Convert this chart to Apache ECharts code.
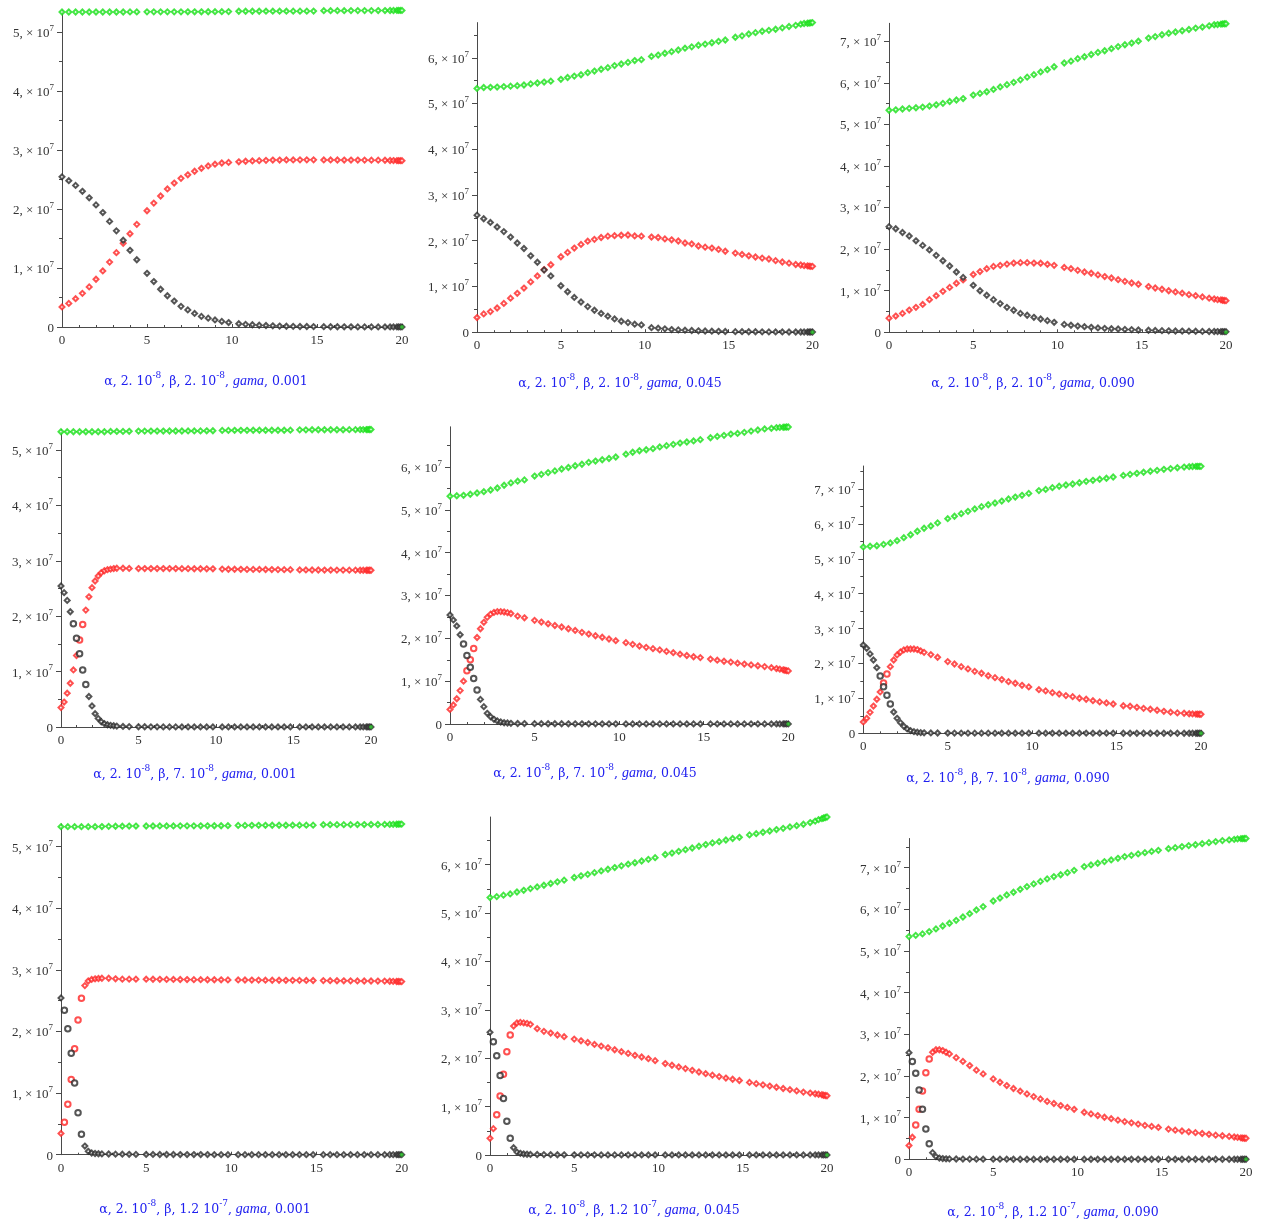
<!DOCTYPE html>
<html>
<head>
<meta charset="utf-8">
<script src="https://cdn.jsdelivr.net/npm/echarts@6/dist/echarts.min.js"></script>
<style>
html, body { margin: 0; padding: 0; background: #fff; }
#chart { width: 1264px; height: 1222px; }
</style>
</head>
<body>
<div id="chart"></div>
<script>
// Output times of the numeric solution (days 0..20)
const tSparse = [0,0.4,0.8,1.2,1.6,2,2.4,2.8,3.2,3.6,4,4.4,
  5,5.4,5.8,6.2,6.6,7,7.4,7.8,8.2,8.6,9,9.4,9.8,
  10.4,10.8,11.2,11.6,12,12.4,12.8,13.2,13.6,14,14.4,14.8,
  15.4,15.8,16.2,16.6,17,17.4,17.8,18.2,18.6,19,
  19.3,19.5,19.7,19.8,19.9,20];
const tDense2 = [0,0.2,0.4,0.6,0.8,1,1.2,1.4,1.6,1.8,2,2.2,2.4,2.6,2.8,3,3.2,3.4,3.6,
  4,4.4,
  5,5.4,5.8,6.2,6.6,7,7.4,7.8,8.2,8.6,9,9.4,9.8,
  10.4,10.8,11.2,11.6,12,12.4,12.8,13.2,13.6,14,14.4,14.8,
  15.4,15.8,16.2,16.6,17,17.4,17.8,18.2,18.6,19,
  19.3,19.5,19.7,19.8,19.9,20];
const tDense3 = [0,0.2,0.4,0.6,0.8,1,1.2,1.4,1.6,1.8,2,2.2,2.4,
  2.8,3.2,3.6,4,4.4,
  5,5.4,5.8,6.2,6.6,7,7.4,7.8,8.2,8.6,9,9.4,9.8,
  10.4,10.8,11.2,11.6,12,12.4,12.8,13.2,13.6,14,14.4,14.8,
  15.4,15.8,16.2,16.6,17,17.4,17.8,18.2,18.6,19,
  19.3,19.5,19.7,19.8,19.9,20];

// Population values, in units of 10^7
// beta = 2e-8, gama = 0.001
const p1Green = [5.340,5.340,5.340,5.340,5.340,5.340,5.340,5.340,5.340,5.340,5.341,5.341,
  5.342,5.342,5.342,5.342,5.342,5.342,5.343,5.343,5.343,5.344,5.345,5.345,5.346,
  5.352,5.352,5.352,5.352,5.353,5.353,5.353,5.353,5.354,5.354,5.354,5.355,
  5.362,5.362,5.362,5.362,5.363,5.363,5.363,5.363,5.364,5.364,
  5.365,5.365,5.366,5.366,5.367,5.367];
const p1Red = [0.34,0.40,0.48,0.57,0.68,0.81,0.95,1.10,1.26,1.42,1.58,1.74,
  1.97,2.10,2.22,2.34,2.44,2.52,2.58,2.64,2.69,2.73,2.76,2.78,2.79,
  2.80,2.81,2.815,2.82,2.825,2.83,2.83,2.832,2.832,2.833,2.833,2.833,
  2.832,2.832,2.831,2.83,2.83,2.83,2.829,2.828,2.828,2.827,
  2.822,2.821,2.82,2.82,2.82,2.82];
const p1Black = [2.545,2.48,2.40,2.30,2.19,2.07,1.94,1.79,1.63,1.47,1.30,1.14,
  0.91,0.77,0.64,0.53,0.44,0.35,0.29,0.23,0.18,0.15,0.12,0.095,0.075,
  0.055,0.045,0.038,0.03,0.025,0.02,0.016,0.013,0.011,0.009,0.008,0.007,
  0.005,0.004,0.004,0.003,0.003,0.002,0.002,0.002,0.001,0.001,
  0.001,0.001,0.001,0.001,0.001,0.001];

// beta = 2e-8, gama = 0.045
const p2Green = [5.33,5.35,5.355,5.36,5.37,5.38,5.39,5.405,5.43,5.45,5.47,5.49,
  5.53,5.57,5.60,5.63,5.675,5.71,5.75,5.785,5.83,5.865,5.90,5.94,5.96,
  6.03,6.06,6.10,6.135,6.17,6.21,6.24,6.275,6.30,6.33,6.36,6.39,
  6.45,6.48,6.52,6.55,6.58,6.60,6.625,6.655,6.685,6.71,
  6.735,6.75,6.755,6.76,6.765,6.77];
const p2Red = [0.32,0.40,0.45,0.53,0.63,0.745,0.85,0.965,1.10,1.23,1.37,1.475,
  1.65,1.745,1.84,1.92,1.99,2.03,2.07,2.10,2.11,2.12,2.125,2.105,2.10,
  2.08,2.07,2.04,2.02,1.995,1.95,1.93,1.885,1.86,1.84,1.81,1.77,
  1.73,1.70,1.67,1.645,1.62,1.60,1.565,1.535,1.51,1.48,
  1.47,1.455,1.45,1.445,1.44,1.44];
const p2Black = [2.56,2.48,2.40,2.30,2.20,2.08,1.95,1.83,1.67,1.53,1.36,1.23,
  1.015,0.885,0.76,0.66,0.56,0.48,0.41,0.35,0.29,0.24,0.21,0.175,0.16,
  0.10,0.088,0.073,0.058,0.05,0.044,0.037,0.03,0.026,0.022,0.019,0.016,
  0.012,0.011,0.01,0.009,0.008,0.007,0.006,0.006,0.005,0.005,
  0.005,0.004,0.004,0.004,0.004,0.004];

// beta = 2e-8, gama = 0.090
const p3Green = [5.34,5.35,5.37,5.385,5.40,5.415,5.44,5.47,5.505,5.55,5.585,5.62,
  5.705,5.745,5.785,5.84,5.90,5.955,6.01,6.07,6.135,6.195,6.26,6.315,6.385,
  6.475,6.52,6.58,6.625,6.68,6.73,6.77,6.82,6.87,6.915,6.955,7.00,
  7.075,7.11,7.155,7.19,7.22,7.25,7.28,7.315,7.34,7.37,
  7.395,7.40,7.41,7.415,7.42,7.42];
const p3Red = [0.34,0.39,0.455,0.535,0.60,0.67,0.785,0.88,0.985,1.08,1.18,1.26,
  1.39,1.46,1.53,1.585,1.61,1.64,1.665,1.675,1.675,1.665,1.66,1.635,1.61,
  1.56,1.53,1.49,1.45,1.42,1.38,1.34,1.305,1.265,1.225,1.185,1.155,
  1.10,1.065,1.035,1.00,0.97,0.94,0.905,0.88,0.85,0.82,
  0.80,0.785,0.78,0.77,0.765,0.76];
const p3Black = [2.54,2.49,2.40,2.315,2.20,2.09,1.98,1.85,1.72,1.595,1.45,1.32,
  1.13,1.00,0.89,0.785,0.69,0.60,0.53,0.455,0.41,0.36,0.32,0.28,0.24,
  0.19,0.17,0.15,0.135,0.12,0.105,0.095,0.085,0.08,0.07,0.065,0.055,
  0.05,0.045,0.04,0.036,0.032,0.03,0.027,0.025,0.022,0.02,
  0.019,0.018,0.017,0.017,0.016,0.016];

// beta = 7e-8, gama = 0.001
const p4Green = [5.33,5.33,5.33,5.33,5.33,5.33,5.33,5.33,5.335,5.335,5.336,5.337,
  5.341,5.341,5.342,5.342,5.342,5.343,5.343,5.343,5.344,5.344,5.345,5.346,5.347,
  5.354,5.354,5.355,5.355,5.355,5.356,5.356,5.356,5.357,5.357,5.357,5.358,
  5.364,5.364,5.365,5.365,5.365,5.366,5.366,5.366,5.367,5.367,
  5.368,5.368,5.369,5.369,5.37,5.37];
const p4Red = [0.35,0.45,0.61,0.79,1.03,1.29,1.57,1.85,2.11,2.35,2.515,2.635,2.725,2.785,2.82,2.84,2.85,2.86,2.865,
  2.865,2.862,
  2.86,2.86,2.86,2.86,2.86,2.86,2.86,2.858,2.858,2.857,2.856,2.855,2.855,
  2.85,2.848,2.847,2.846,2.845,2.845,2.844,2.843,2.842,2.841,2.84,2.84,
  2.835,2.835,2.834,2.834,2.833,2.833,2.832,2.832,2.831,2.831,
  2.83,2.83,2.83,2.83,2.83,2.83];
const p4Black = [2.545,2.425,2.285,2.08,1.865,1.60,1.32,1.03,0.765,0.55,0.38,0.24,0.155,0.095,0.06,0.04,0.03,0.022,0.016,
  0.01,0.007,
  0.005,0.004,0.003,0.003,0.002,0.002,0.002,0.001,0.001,0.001,0.001,0.001,0.001,
  0.001,0.001,0.001,0.001,0.001,0.001,0.001,0.001,0.001,0.001,0.001,0.001,
  0.001,0.001,0.001,0.001,0.001,0.001,0.001,0.001,0.001,0.001,
  0.001,0.001,0.001,0.001,0.001,0.001];

// beta = 7e-8, gama = 0.045
const p5Green = [5.32,5.33,5.34,5.365,5.395,5.425,5.465,5.51,5.575,5.63,5.67,5.70,
  5.79,5.83,5.87,5.91,5.955,5.99,6.03,6.065,6.11,6.14,6.17,6.20,6.235,
  6.30,6.345,6.38,6.405,6.43,6.47,6.50,6.53,6.56,6.585,6.61,6.64,
  6.685,6.715,6.74,6.77,6.785,6.81,6.84,6.865,6.89,6.905,
  6.92,6.925,6.93,6.932,6.935,6.935];
const p5Red = [0.34,0.445,0.59,0.78,1.0,1.245,1.50,1.765,2.02,2.225,2.375,2.49,2.565,2.605,2.625,2.625,2.615,2.60,2.58,
  2.52,2.48,
  2.42,2.38,2.34,2.30,2.265,2.225,2.185,2.14,2.10,2.06,2.025,1.985,1.945,
  1.90,1.86,1.82,1.79,1.76,1.73,1.695,1.665,1.63,1.60,1.57,1.55,
  1.515,1.49,1.465,1.445,1.42,1.40,1.38,1.36,1.34,1.315,
  1.295,1.28,1.265,1.255,1.245,1.24];
const p5Black = [2.545,2.43,2.29,2.085,1.87,1.60,1.325,1.06,0.795,0.575,0.405,0.25,0.17,0.11,0.07,0.047,0.03,0.023,0.016,
  0.012,0.01,
  0.008,0.007,0.006,0.005,0.005,0.004,0.004,0.004,0.003,0.003,0.003,0.003,0.003,
  0.002,0.002,0.002,0.002,0.002,0.002,0.002,0.002,0.002,0.002,0.002,0.002,
  0.002,0.002,0.002,0.002,0.002,0.002,0.002,0.002,0.002,0.002,
  0.002,0.002,0.002,0.002,0.002,0.002];

// beta = 7e-8, gama = 0.090
const p6Green = [5.34,5.36,5.375,5.415,5.455,5.52,5.605,5.69,5.79,5.875,5.94,6.03,
  6.15,6.22,6.295,6.36,6.43,6.495,6.55,6.60,6.655,6.715,6.77,6.82,6.875,
  6.955,6.99,7.04,7.08,7.115,7.145,7.18,7.22,7.25,7.28,7.31,7.345,
  7.39,7.42,7.45,7.48,7.51,7.535,7.565,7.585,7.61,7.63,
  7.64,7.645,7.65,7.65,7.65,7.65];
const p6Red = [0.325,0.43,0.60,0.78,0.975,1.185,1.44,1.70,1.91,2.10,2.245,2.33,2.39,2.415,2.415,2.415,2.40,2.36,2.32,
  2.255,2.18,
  2.055,1.985,1.91,1.845,1.775,1.72,1.65,1.595,1.54,1.48,1.435,1.375,1.33,
  1.25,1.215,1.165,1.125,1.08,1.05,1.005,0.975,0.935,0.90,0.87,0.84,
  0.79,0.775,0.745,0.715,0.69,0.66,0.63,0.605,0.585,0.575,
  0.56,0.555,0.55,0.55,0.545,0.545];
const p6Black = [2.53,2.435,2.275,2.10,1.88,1.64,1.335,1.09,0.84,0.61,0.43,0.305,0.20,0.125,0.075,0.048,0.03,0.02,0.014,
  0.01,0.008,
  0.007,0.006,0.005,0.005,0.004,0.004,0.004,0.004,0.003,0.003,0.003,0.003,0.003,
  0.003,0.003,0.003,0.003,0.003,0.003,0.003,0.003,0.003,0.003,0.003,0.003,
  0.002,0.002,0.002,0.002,0.002,0.002,0.002,0.002,0.002,0.002,
  0.002,0.002,0.002,0.002,0.002,0.002];

// beta = 1.2e-7, gama = 0.001
const p7Green = [5.325,5.325,5.325,5.325,5.325,5.325,5.327,5.33,5.332,5.333,5.335,5.335,
  5.336,5.336,5.337,5.337,5.337,5.338,5.338,5.338,5.339,5.339,5.34,5.34,5.341,
  5.346,5.346,5.347,5.347,5.347,5.348,5.348,5.348,5.349,5.349,5.35,5.35,
  5.357,5.357,5.358,5.358,5.358,5.359,5.359,5.36,5.36,5.361,
  5.362,5.363,5.364,5.366,5.367,5.367];
const p7Red = [0.345,0.525,0.82,1.22,1.72,2.185,2.54,2.745,2.82,2.845,2.855,2.86,2.865,
  2.865,2.855,2.85,2.85,2.85,
  2.849,2.848,2.847,2.846,2.845,2.844,2.843,2.842,2.841,2.84,2.84,2.839,2.838,
  2.837,2.836,2.835,2.834,2.833,2.832,2.832,2.831,2.83,2.83,2.829,2.828,
  2.826,2.825,2.824,2.823,2.822,2.821,2.82,2.82,2.819,2.818,
  2.816,2.814,2.812,2.811,2.81,2.81];
const p7Black = [2.545,2.345,2.045,1.645,1.165,0.68,0.33,0.14,0.055,0.027,0.02,0.015,0.013,
  0.011,0.009,0.008,0.006,0.005,
  0.004,0.004,0.003,0.003,0.003,0.002,0.002,0.002,0.002,0.002,0.001,0.001,0.001,
  0.001,0.001,0.001,0.001,0.001,0.001,0.001,0.001,0.001,0.001,0.001,0.001,
  0.001,0.001,0.001,0.001,0.001,0.001,0.001,0.001,0.001,0.001,
  0.001,0.001,0.001,0.001,0.001,0.001];

// beta = 1.2e-7, gama = 0.045
const p8Green = [5.32,5.34,5.37,5.395,5.435,5.47,5.505,5.54,5.575,5.61,5.645,5.68,
  5.735,5.77,5.80,5.835,5.87,5.905,5.94,5.975,6.01,6.04,6.075,6.11,6.145,
  6.21,6.24,6.275,6.31,6.345,6.38,6.415,6.45,6.475,6.51,6.54,6.565,
  6.615,6.64,6.67,6.695,6.725,6.75,6.78,6.805,6.835,6.87,
  6.90,6.93,6.95,6.965,6.975,6.985];
const p8Red = [0.345,0.545,0.83,1.22,1.67,2.135,2.48,2.665,2.73,2.74,2.73,2.72,2.70,
  2.61,2.555,2.52,2.48,2.445,
  2.395,2.36,2.325,2.285,2.25,2.215,2.175,2.135,2.10,2.06,2.025,1.99,1.95,
  1.89,1.855,1.82,1.785,1.75,1.715,1.68,1.65,1.62,1.59,1.565,1.54,
  1.50,1.475,1.45,1.425,1.40,1.375,1.35,1.325,1.30,1.28,
  1.265,1.255,1.245,1.235,1.23,1.225];
const p8Black = [2.535,2.34,2.05,1.645,1.17,0.70,0.345,0.15,0.06,0.035,0.02,0.015,0.012,
  0.01,0.008,0.006,0.005,0.004,
  0.004,0.003,0.003,0.003,0.002,0.002,0.002,0.002,0.002,0.002,0.001,0.001,0.001,
  0.001,0.001,0.001,0.001,0.001,0.001,0.001,0.001,0.001,0.001,0.001,0.001,
  0.001,0.001,0.001,0.001,0.001,0.001,0.001,0.001,0.001,0.001,
  0.001,0.001,0.001,0.001,0.001,0.001];

// beta = 1.2e-7, gama = 0.090
const p9Green = [5.345,5.375,5.41,5.465,5.53,5.60,5.665,5.735,5.815,5.895,5.985,6.065,
  6.20,6.27,6.345,6.41,6.48,6.545,6.61,6.67,6.73,6.785,6.83,6.88,6.935,
  7.025,7.065,7.105,7.145,7.185,7.225,7.265,7.295,7.33,7.36,7.39,7.415,
  7.455,7.48,7.505,7.53,7.55,7.575,7.60,7.625,7.65,7.665,
  7.68,7.69,7.695,7.695,7.70,7.70];
const p9Red = [0.33,0.53,0.825,1.20,1.64,2.08,2.41,2.57,2.63,2.63,2.61,2.57,2.53,
  2.44,2.35,2.25,2.14,2.05,
  1.93,1.85,1.77,1.70,1.635,1.57,1.505,1.45,1.39,1.34,1.29,1.245,1.20,
  1.13,1.09,1.05,1.01,0.975,0.94,0.905,0.875,0.845,0.815,0.79,0.765,
  0.725,0.70,0.68,0.66,0.64,0.62,0.60,0.58,0.565,0.55,
  0.535,0.525,0.515,0.51,0.505,0.505];
const p9Black = [2.56,2.35,2.065,1.665,1.20,0.73,0.375,0.16,0.065,0.03,0.018,0.012,0.01,
  0.008,0.006,0.005,0.004,0.003,
  0.003,0.003,0.003,0.002,0.002,0.002,0.002,0.002,0.002,0.002,0.002,0.002,0.002,
  0.002,0.002,0.002,0.002,0.002,0.002,0.002,0.002,0.002,0.002,0.002,0.002,
  0.001,0.001,0.001,0.001,0.001,0.001,0.001,0.001,0.001,0.001,
  0.001,0.001,0.001,0.001,0.001,0.001];

// End-of-run marker drawn at (20, 0) in every panel
const cornerMark = [20, 0];

// Tick labels
const xTickValues = [0, 5, 10, 15, 20];
const yMajorValues = [0, 1, 2, 3, 4, 5, 6, 7];

// Parameter captions
const alphaText = ['2. 10', '-8'];
const betaTexts = [['2. 10', '-8'], ['7. 10', '-8'], ['1.2 10', '-7']];
const gamaTexts = ['0.001', '0.045', '0.090'];

const COLORS = { green: '#16e016', red: '#ff2424', black: '#2a2a2a' };
const SERIF = '"Liberation Serif", "DejaVu Serif", serif';
const CAPTION_FONT = '"DejaVu Serif", "Liberation Serif", serif';

// Panel layout (plot boxes in pixels) and series bindings
const panels = [
  { box: [62, 10.2, 340, 316.8],   yMax: 5.37,  g: p1Green, r: p1Red, k: p1Black, tg: tSparse, tr: tSparse, row: 0, col: 0, cap: [201, 375] },
  { box: [477, 22.6, 335.5, 309.6], yMax: 6.77, g: p2Green, r: p2Red, k: p2Black, tg: tSparse, tr: tSparse, row: 0, col: 1, cap: [615, 377] },
  { box: [889, 23.3, 337, 309],    yMax: 7.43,  g: p3Green, r: p3Red, k: p3Black, tg: tSparse, tr: tSparse, row: 0, col: 2, cap: [1028, 377] },
  { box: [61, 429.5, 310, 297.5],  yMax: 5.37,  g: p4Green, r: p4Red, k: p4Black, tg: tSparse, tr: tDense2, row: 1, col: 0, cap: [190, 768],
    boldK: [0.75, 1.65], boldR: [1.15, 1.45] },
  { box: [450, 426.8, 338.3, 297.2], yMax: 6.94, g: p5Green, r: p5Red, k: p5Black, tg: tSparse, tr: tDense2, row: 1, col: 1, cap: [590, 767],
    boldK: [0.75, 1.65], boldR: [0.95, 1.45] },
  { box: [863.3, 466, 337.7, 267.3], yMax: 7.66, g: p6Green, r: p6Red, k: p6Black, tg: tSparse, tr: tDense2, row: 1, col: 2, cap: [1003, 772],
    boldK: [0.95, 1.65], boldR: [1.15, 1.45] },
  { box: [61, 823.9, 340.7, 330.8], yMax: 5.37,  g: p7Green, r: p7Red, k: p7Black, tg: tSparse, tr: tDense3, row: 2, col: 0, cap: [200, 1203],
    boldK: [0.15, 1.3], boldR: [0.15, 1.3] },
  { box: [490, 817, 337, 338],     yMax: 6.985, g: p8Green, r: p8Red, k: p8Black, tg: tSparse, tr: tDense3, row: 2, col: 1, cap: [629, 1204],
    boldK: [0.15, 1.3], boldR: [0.35, 1.3] },
  { box: [909, 838.5, 337, 320.8], yMax: 7.70,  g: p9Green, r: p9Red, k: p9Black, tg: tSparse, tr: tDense3, row: 2, col: 2, cap: [1048, 1206],
    boldK: [0.15, 1.3], boldR: [0.35, 1.3] }
];

function toPoints(times, values, bold, label) {
  if (times.length !== values.length) {
    throw new Error('length mismatch in ' + label + ': ' + times.length + ' vs ' + values.length);
  }
  return values.map(function (v, i) {
    const t = times[i];
    if (bold && t >= bold[0] && t <= bold[1]) {
      return { value: [t, v], symbol: 'emptyCircle', symbolSize: 5.5, itemStyle: { borderWidth: 2 } };
    }
    return [t, v];
  });
}

const grid = [], xAxis = [], yAxis = [], series = [], title = [];
const axisColor = '#4a4a4a';

panels.forEach(function (p, i) {
  grid.push({ left: p.box[0], top: p.box[1], width: p.box[2], height: p.box[3] });

  xAxis.push({
    gridIndex: i, type: 'value', min: 0, max: 20, interval: 5,
    axisLine: { onZero: false, lineStyle: { color: axisColor, width: 1 } },
    axisTick: { show: true, inside: true, length: 3, lineStyle: { color: axisColor } },
    minorTick: { show: true, splitNumber: 5, length: 2, lineStyle: { color: axisColor } },
    axisLabel: { fontFamily: SERIF, fontSize: 13, color: '#333', margin: 7,
      customValues: xTickValues },
    splitLine: { show: false }
  });

  const majors = yMajorValues.filter(function (v) { return v <= p.yMax; });
  const halves = majors.map(function (v) { return v + 0.5; }).filter(function (v) { return v <= p.yMax; });

  yAxis.push({
    gridIndex: i, type: 'value', min: 0, max: p.yMax, interval: 1,
    axisLine: { show: true, onZero: false, lineStyle: { color: axisColor, width: 1 } },
    axisTick: { show: true, length: 5, lineStyle: { color: axisColor }, customValues: majors },
    axisLabel: {
      customValues: majors, margin: 8,
      formatter: function (v) { return v === 0 ? '{a|0}' : '{a|' + v + ', \u00d7 10}{e|7}'; },
      rich: {
        a: { fontFamily: SERIF, fontSize: 13, color: '#333', lineHeight: 16, verticalAlign: 'bottom' },
        e: { fontFamily: SERIF, fontSize: 9, color: '#333', lineHeight: 9, verticalAlign: 'top' }
      }
    },
    splitLine: { show: false }
  });
  // half-step tick marks on the same left edge
  yAxis.push({
    gridIndex: i, type: 'value', min: 0, max: p.yMax, position: 'left', offset: 0,
    axisLine: { show: false },
    axisTick: { show: true, length: 3, lineStyle: { color: axisColor }, customValues: halves },
    axisLabel: { show: false },
    splitLine: { show: false }
  });
  const yIdx = yAxis.length - 2;

  const common = { type: 'scatter', xAxisIndex: i, yAxisIndex: yIdx, symbol: 'emptyDiamond', symbolSize: 5,
    animation: false, silent: true };
  series.push(Object.assign({}, common, { name: 'green' + i, data: toPoints(p.tg, p.g, null, 'green ' + (i + 1)),
    itemStyle: { color: COLORS.green, borderWidth: 1 } }));
  series.push(Object.assign({}, common, { name: 'red' + i, data: toPoints(p.tr, p.r, p.boldR, 'red ' + (i + 1)),
    itemStyle: { color: COLORS.red, borderWidth: 1 } }));
  series.push(Object.assign({}, common, { name: 'black' + i, data: toPoints(p.tr, p.k, p.boldK, 'black ' + (i + 1)),
    itemStyle: { color: COLORS.black, borderWidth: 1 } }));
  series.push(Object.assign({}, common, { name: 'end' + i, data: [cornerMark], symbol: 'circle', symbolSize: 4,
    itemStyle: { color: '#1fb81f' }, z: 3 }));

  const beta = betaTexts[p.row], gama = gamaTexts[p.col];
  const blue = '#2020f0';
  title.push({
    left: p.cap[0], top: p.cap[1] - 9, textAlign: 'center',
    text: '{n|\u03b1, ' + alphaText[0] + '}{e|' + alphaText[1] + '}{n|, \u03b2, ' + beta[0] + '}{e|' + beta[1] +
      '}{n|, }{i|gama}{n|, ' + gama + '}',
    textStyle: {
      fontWeight: 'normal',
      rich: {
        n: { fontFamily: CAPTION_FONT, fontSize: 12.5, fontWeight: 'normal', color: blue, lineHeight: 17, verticalAlign: 'bottom' },
        i: { fontFamily: SERIF, fontSize: 14, fontWeight: 'normal', fontStyle: 'italic', color: blue, lineHeight: 17, verticalAlign: 'bottom' },
        e: { fontFamily: CAPTION_FONT, fontSize: 9, fontWeight: 'normal', color: blue, lineHeight: 10, verticalAlign: 'top' }
      }
    }
  });
});

const chart = echarts.init(document.getElementById('chart'), null, { renderer: 'canvas' });
chart.setOption({ backgroundColor: '#ffffff', animation: false, title: title, grid: grid, xAxis: xAxis, yAxis: yAxis, series: series });
</script>
</body>
</html>
